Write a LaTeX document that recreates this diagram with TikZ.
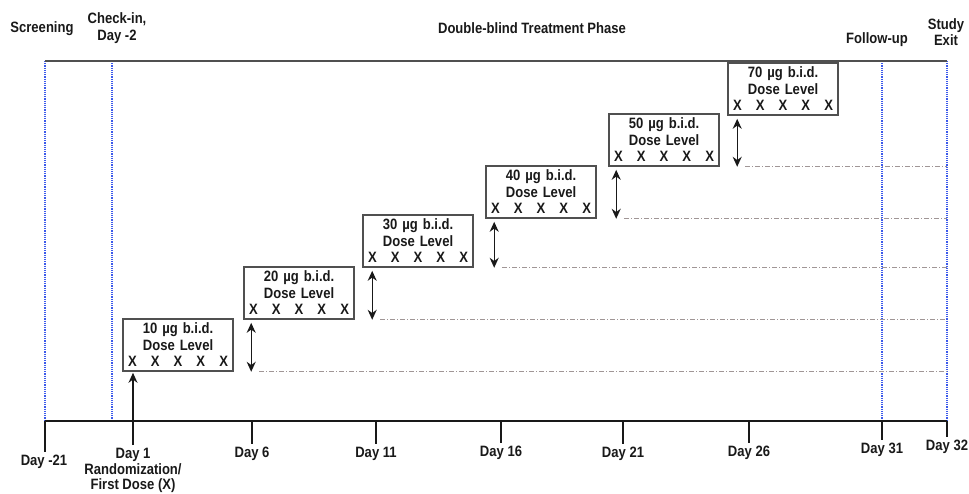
\documentclass[tikz,border=0pt]{standalone}
\usepackage{fontspec}
\setmainfont{Liberation Sans}[FakeStretch=0.87]
\usepackage{tikz}
\usetikzlibrary{arrows.meta,positioning}
\definecolor{boxgray}{RGB}{80,80,80}
\definecolor{inkdark}{RGB}{25,25,25}
\definecolor{phaseblue}{RGB}{60,90,235}
\definecolor{guidegray}{RGB}{160,150,150}
\newcommand{\fivex}{\makebox[100pt]{X\hfill X\hfill X\hfill X\hfill X}}

\begin{document}
\begin{tikzpicture}[
      x=1pt, y=-1pt,
      lbl/.style={font=\fontsize{15}{16.5}\selectfont\bfseries, text=inkdark,
                  align=center, inner sep=3pt},
      daylbl/.style={lbl, anchor=north},
      dose/.style={draw=boxgray, line width=1.6pt, lbl, inner sep=1pt,
                   minimum width=110pt, minimum height=52pt, text width=100pt},
      arr/.style={-{Stealth[length=10pt,width=9pt]}, line width=1.4pt, draw=inkdark},
      dbl/.style={{Stealth[length=10pt,width=9pt]}-{Stealth[length=10pt,width=9pt]},
                  line width=1.4pt, draw=inkdark},
      tick/.style={line width=1.2pt, draw=inkdark},
      guide/.style={draw=guidegray, line width=1pt,
                    dash pattern=on 5pt off 2pt on 1pt off 2pt},
      phase/.style={draw=phaseblue, line width=1.8pt, dash pattern=on 1.2pt off 1pt}
    ]
    \useasboundingbox (0,0) rectangle (969,494);

    % phase borders and time axis
    \coordinate (top) at (45,61);
    \coordinate (ax0) at (45,421);
    \coordinate (vscr)  at (45,0);
    \coordinate (vchk)  at (112,0);
    \coordinate (vfol)  at (882,0);
    \coordinate (vexit) at (947,0);
    \draw[phase] (vscr |- top)  -- (vscr |- ax0);
    \draw[phase] (vchk |- top)  -- (vchk |- ax0);
    \draw[phase] (vfol |- top)  -- (vfol |- ax0);
    \draw[phase] (vexit |- top) -- (vexit |- ax0);
    \draw[draw=boxgray, line width=1.8pt] (top) -- (vexit |- top);
    \draw[draw=inkdark, line width=2.6pt] (ax0) -- (vexit |- ax0);

    % phase titles
    \node[lbl] (screen) at (42,29)  {Screening};
    \node[lbl] (check)  at (117,28) {Check-in,\\Day -2};
    \node[lbl] (dbtp)   at (532,28) {Double-blind Treatment Phase};
    \node[lbl] (follow) at (877,40) {Follow-up};
    \node[lbl] (exit)   at (946,32) {Study\\Exit};

    % dose levels
    \node[dose] (d10) at (178,345) {10 µg b.i.d.\\Dose Level\\\fivex};
    \node[dose] (d20) at (299,293) {20 µg b.i.d.\\Dose Level\\\fivex};
    \node[dose] (d30) at (418,241) {30 µg b.i.d.\\Dose Level\\\fivex};
    \node[dose] (d40) at (541,192) {40 µg b.i.d.\\Dose Level\\\fivex};
    \node[dose] (d50) at (664,140) {50 µg b.i.d.\\Dose Level\\\fivex};
    \node[dose] (d70) at (783,89)  {70 µg b.i.d.\\Dose Level\\\fivex};

    % day labels and ticks
    \node[daylbl] (lm21) at (44,452)  {Day -21};
    \node[daylbl, font=\fontsize{15}{15.5}\selectfont\bfseries]
      (l1) at (133,445) {Day 1\\Randomization/\\First Dose (X)};
    \node[daylbl] (l6)   at (252,444) {Day 6};
    \node[daylbl] (l11)  at (376,444) {Day 11};
    \node[daylbl] (l16)  at (501,443) {Day 16};
    \node[daylbl] (l21)  at (623,444) {Day 21};
    \node[daylbl] (l26)  at (749,443) {Day 26};
    \node[daylbl] (l31)  at (882,440) {Day 31};
    \node[daylbl] (l32)  at (947,437) {Day 32};

    \draw[tick] (vscr |- ax0)   -- (vscr |- lm21.north);
    \draw[tick] (l6.north |- ax0)  -- (l6.north);
    \draw[tick] (l11.north |- ax0) -- (l11.north);
    \draw[tick] (l16.north |- ax0) -- (l16.north);
    \draw[tick] (l21.north |- ax0) -- (l21.north);
    \draw[tick] (l26.north |- ax0) -- (l26.north);
    \draw[tick] (l31.north |- ax0) -- (l31.north);
    \draw[tick] (l32.north |- ax0) -- (l32.north);

    % first dose
    \draw[arr, shorten >=1pt] (l1.north) -- (l1.north |- d10.south);

    % escalation steps
    \path (d20.south west) ++(8,0) coordinate (x20);
    \path (d30.south west) ++(10,0) coordinate (x30);
    \path (d40.south west) ++(9,0) coordinate (x40);
    \path (d50.south west) ++(8,0) coordinate (x50);
    \path (d70.south west) ++(10,0) coordinate (x70);
    \coordinate (g20) at (x20 |- d10.south);
    \coordinate (g30) at (x30 |- d20.south);
    \coordinate (g40) at (x40 |- d30.south);
    \coordinate (g50) at (x50 |- d40.south);
    \coordinate (g70) at (x70 |- d50.south);

    \draw[dbl] ([yshift=-3pt]x20) -- (g20);
    \draw[dbl] ([yshift=-3pt]x30) -- (g30);
    \draw[dbl] ([yshift=-3pt]x40) -- (g40);
    \draw[dbl] ([yshift=-3pt]x50) -- (g50);
    \draw[dbl] ([yshift=-3pt]x70) -- (g70);

    \draw[guide] ([xshift=8pt]g20) -- (g20 -| vexit);
    \draw[guide] ([xshift=8pt]g30) -- (g30 -| vexit);
    \draw[guide] ([xshift=8pt]g40) -- (g40 -| vexit);
    \draw[guide] ([xshift=8pt]g50) -- (g50 -| vexit);
    \draw[guide] ([xshift=8pt]g70) -- (g70 -| vexit);
  \end{tikzpicture}
\end{document}
